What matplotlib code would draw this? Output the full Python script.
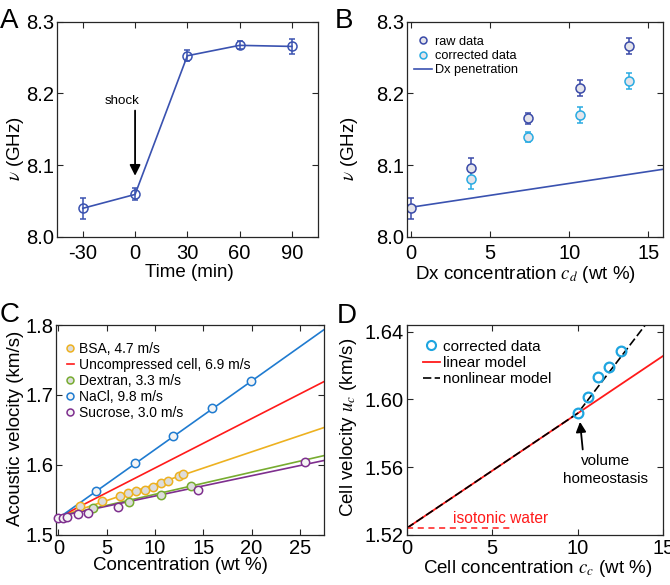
import matplotlib
matplotlib.use('Agg')
import matplotlib.pyplot as plt
from matplotlib import font_manager
from matplotlib.ticker import FormatStrFormatter

# ---------------- data ----------------
# Panel A
time_min = [-30, 0, 30, 60, 90]
freq_A = [8.0396, 8.059, 8.2525, 8.267, 8.2655]
err_A = [0.015, 0.0084, 0.008, 0.0055, 0.011]

# Panel B
raw_conc = [0, 3.8, 7.4, 10.7, 13.8]
raw_freq = [8.0396, 8.0954, 8.165, 8.208, 8.266]
raw_err = [0.015, 0.014, 0.008, 0.011, 0.011]
corr_conc = [3.8, 7.4, 10.7, 13.8]
corr_freq = [8.080, 8.1386, 8.170, 8.2176]
corr_err = [0.014, 0.007, 0.011, 0.011]
pen_x = [0, 15.9]
pen_y = [8.041, 8.094]

# Panel C
bsa_x = [2.24, 4.55, 6.41, 7.24, 8.07, 8.97, 9.82, 10.59, 11.38, 12.48, 12.93]
bsa_y = [1.5409, 1.5481, 1.5552, 1.5591, 1.5624, 1.5643, 1.5686, 1.5735, 1.5768, 1.5839, 1.5868]
dex_x = [3.62, 7.31, 10.62, 13.69]
dex_y = [1.5385, 1.547, 1.5562, 1.5696]
nacl_x = [3.9, 7.9, 11.9, 15.93, 19.93]
nacl_y = [1.5624, 1.602, 1.641, 1.681, 1.720]
suc_x = [0.0, 0.45, 0.93, 2.07, 3.1, 6.2, 14.48, 25.5]
suc_y = [1.5233, 1.5241, 1.5251, 1.5294, 1.5313, 1.539, 1.5638, 1.6036]
fit_x = [0.35, 27.5]
fit_bsa = [1.527, 1.6532]
fit_cell = [1.527, 1.719]
fit_dex = [1.527, 1.613]
fit_nacl = [1.527, 1.7934]
fit_suc = [1.527, 1.606]
labels_C = ['BSA, 4.7 m/s', 'Uncompressed cell, 6.9 m/s', 'Dextran, 3.3 m/s',
            'NaCl, 9.8 m/s', 'Sucrose, 3.0 m/s']

# Panel D
d_conc = [10.03, 10.58, 11.2, 11.84, 12.5]
d_vel = [1.5918, 1.6012, 1.6134, 1.6193, 1.6287]
lin_x = [0, 15]
lin_y = [1.524, 1.6258]
nonlin_x = [0, 10, 13.95]
nonlin_y = [1.524, 1.5919, 1.644]
iso_x = [0, 6.25]
iso_y = [1.524, 1.524]

# ---------------- style ----------------
names = {f.name for f in font_manager.fontManager.ttflist}
NARROW = 'Liberation Sans Narrow' in names
FAM = 'Liberation Sans Narrow' if NARROW else 'Liberation Sans'

plt.rcParams.update({
    'font.family': [FAM, 'DejaVu Sans'],
    'mathtext.fontset': 'stix',
    'axes.unicode_minus': False,
    'xtick.direction': 'in', 'ytick.direction': 'in',
    'xtick.top': True, 'ytick.right': True,
    'xtick.major.size': 4, 'ytick.major.size': 4,
    'xtick.major.width': 0.8, 'ytick.major.width': 0.8,
    'axes.linewidth': 0.9,
    'axes.edgecolor': '#262626',
    'xtick.color': '#262626', 'ytick.color': '#262626',
    'xtick.labelcolor': 'black', 'ytick.labelcolor': 'black',
})

TICK = 14.5
LAB = 13.5

fig = plt.figure(figsize=(6.7, 5.85), dpi=100)
axA = fig.add_axes([0.0846, 0.5954, 0.3900, 0.3675])
axB = fig.add_axes([0.6070, 0.5954, 0.3821, 0.3675])
axC = fig.add_axes([0.0836, 0.0863, 0.4000, 0.3581])
axD = fig.add_axes([0.6070, 0.0855, 0.3830, 0.3590])

for ax in (axA, axB, axC, axD):
    ax.tick_params(labelsize=TICK)
    ax.tick_params(axis='y', pad=2)
for ax in (axA, axB):
    ax.tick_params(axis='x', pad=5)
for ax in (axC, axD):
    ax.tick_params(axis='x', pad=3)

BLUE_A = '#3a52b0'
# ---------------- A ----------------
axA.errorbar(time_min, freq_A, yerr=err_A, color=BLUE_A, lw=1.2, marker='o',
             ms=6.5, mfc='none', mec=BLUE_A, mew=1.1, capsize=2.5, elinewidth=1.1)
axA.set_xlim(-45, 105)
axA.set_ylim(8.0, 8.3)
axA.set_xticks([-30, 0, 30, 60, 90])
axA.set_yticks([8.0, 8.1, 8.2, 8.3])
axA.yaxis.set_major_formatter(FormatStrFormatter('%.1f'))
axA.annotate('', xy=(0, 8.085), xytext=(0, 8.176),
             arrowprops=dict(arrowstyle='-|>', color='black', lw=1.3,
                             mutation_scale=16, shrinkA=0, shrinkB=0))
axA.text(-7.4, 8.189, 'shock', ha='center', va='center', fontsize=9.6)
axA.set_xlabel('Time (min)', fontsize=LAB)
axA.set_ylabel(r'$\nu$ (GHz)', fontsize=LAB)
axA.xaxis.set_label_coords(0.506, -0.128)
axA.yaxis.set_label_coords(-0.118, 0.41)

# ---------------- B ----------------
RAW = '#3a4aa8'
COR = '#29abe2'
axB.errorbar(raw_conc, raw_freq, yerr=raw_err, color=RAW, ls='none', marker='o',
             ms=6.5, mfc='#e4e4ea', mec=RAW, mew=1.1, capsize=2.5, elinewidth=1.1)
axB.errorbar(corr_conc, corr_freq, yerr=corr_err, color=COR, ls='none', marker='o',
             ms=6.5, mfc='#e4e4ea', mec=COR, mew=1.1, capsize=2.5, elinewidth=1.1)
axB.plot(pen_x, pen_y, color=BLUE_A, lw=1.2)
axB.set_xlim(-0.25, 15.9)
axB.set_ylim(8.0, 8.3)
axB.set_xticks([0, 5, 10, 15])
axB.set_yticks([8.0, 8.1, 8.2, 8.3])
axB.yaxis.set_major_formatter(FormatStrFormatter('%.1f'))
hh = [plt.Line2D([], [], ls='none', marker='o', ms=5, mfc='#e4e4ea', mec=RAW, mew=1.1),
      plt.Line2D([], [], ls='none', marker='o', ms=5, mfc='#e4e4ea', mec=COR, mew=1.1),
      plt.Line2D([], [], color=BLUE_A, lw=1.2)]
axB.legend(hh, ['raw data', 'corrected data', 'Dx penetration'], loc='upper left',
           bbox_to_anchor=(0.03, 0.935), frameon=False, fontsize=9.2,
           handlelength=1.35, handletextpad=0.3, labelspacing=0.18,
           borderpad=0, borderaxespad=0)
axB.set_xlabel(r'Dx concentration $c_d$ (wt %)', fontsize=LAB)
axB.set_ylabel(r'$\nu$ (GHz)', fontsize=LAB)
axB.xaxis.set_label_coords(0.465, -0.128)
axB.yaxis.set_label_coords(-0.183, 0.41)

# ---------------- C ----------------
C_BSA = '#edb120'
C_RED = '#ff1a1a'
C_DEX = '#77ac30'
C_NACL = '#1f7bd0'
C_SUC = '#7e2f8e'
FILL = '#dcdcdc'
lw_fit = 1.2
axC.plot(fit_x, fit_bsa, color=C_BSA, lw=lw_fit)
axC.plot(fit_x, fit_cell, color=C_RED, lw=lw_fit)
axC.plot(fit_x, fit_dex, color=C_DEX, lw=lw_fit)
axC.plot(fit_x, fit_nacl, color=C_NACL, lw=lw_fit)
axC.plot(fit_x, fit_suc, color=C_SUC, lw=lw_fit)
mk = dict(ls='none', marker='o', ms=6, mew=1.1, clip_on=False, zorder=3)
axC.plot(bsa_x, bsa_y, mfc=FILL, mec=C_BSA, **mk)
axC.plot(dex_x, dex_y, mfc=FILL, mec=C_DEX, **mk)
axC.plot(nacl_x, nacl_y, mfc='#f4f4f4', mec=C_NACL, **mk)
axC.plot(suc_x, suc_y, mfc='#f4f4f4', mec=C_SUC, **mk)
hC = [plt.Line2D([], [], ls='none', marker='o', ms=5, mfc=FILL, mec=C_BSA, mew=1.1),
      plt.Line2D([], [], color=C_RED, lw=1.2),
      plt.Line2D([], [], ls='none', marker='o', ms=5, mfc=FILL, mec=C_DEX, mew=1.1),
      plt.Line2D([], [], ls='none', marker='o', ms=5, mfc='#f4f4f4', mec=C_NACL, mew=1.1),
      plt.Line2D([], [], ls='none', marker='o', ms=5, mfc='#f4f4f4', mec=C_SUC, mew=1.1)]
axC.legend(hC, labels_C, loc='upper left', bbox_to_anchor=(0.04, 0.92), frameon=False,
           fontsize=10, handlelength=0.5, handletextpad=0.35, labelspacing=0.15,
           borderpad=0, borderaxespad=0)
axC.set_xlim(-0.25, 27.5)
axC.set_ylim(1.5, 1.8)
axC.set_xticks([0, 5, 10, 15, 20, 25])
axC.set_yticks([1.5, 1.6, 1.7, 1.8])
axC.yaxis.set_major_formatter(FormatStrFormatter('%.1f'))
axC.set_xlabel('Concentration (wt %)', fontsize=LAB)
axC.set_ylabel('Acoustic velocity (km/s)', fontsize=LAB)
axC.xaxis.set_label_coords(0.463, -0.108)
axC.yaxis.set_label_coords(-0.118, 0.507)

# ---------------- D ----------------
C_D = '#1ea5e0'
axD.plot(lin_x, lin_y, color='#ff1a1a', lw=1.3)
axD.plot(nonlin_x, nonlin_y, color='black', lw=1.2, ls=(0, (5, 2)))
axD.plot(iso_x, iso_y, color='#ff1a1a', lw=1.1, ls=(0, (4, 3)), clip_on=False)
axD.plot(d_conc, d_vel, ls='none', marker='o', ms=7, mfc='none', mec=C_D, mew=1.6,
         zorder=3)
hD = [plt.Line2D([], [], ls='none', marker='o', ms=6.5, mfc='none', mec=C_D, mew=1.5),
      plt.Line2D([], [], color='#ff1a1a', lw=1.3),
      plt.Line2D([], [], color='black', lw=1.2, ls=(0, (5, 2)))]
axD.legend(hD, ['corrected data', 'linear model', 'nonlinear model'], loc='upper left',
           bbox_to_anchor=(0.063, 0.93), frameon=False, fontsize=11,
           handlelength=1.1, handletextpad=0.25, labelspacing=0.15,
           borderpad=0, borderaxespad=0)
axD.annotate('', xy=(10.13, 1.5868), xytext=(10.29, 1.5705),
             arrowprops=dict(arrowstyle='-|>', color='black', lw=1.3,
                             mutation_scale=15, shrinkA=0, shrinkB=0))
axD.text(11.6, 1.5585, 'volume\nhomeostasis', ha='center', va='center',
         fontsize=11, linespacing=1.35)
axD.text(5.5, 1.5255, 'isotonic water', ha='center', va='bottom', color='#ff1a1a',
         fontsize=11.2)
axD.set_xlim(0, 15)
axD.set_ylim(1.52, 1.644)
axD.set_xticks([0, 5, 10, 15])
axD.set_yticks([1.52, 1.56, 1.60, 1.64])
axD.yaxis.set_major_formatter(FormatStrFormatter('%.2f'))
axD.set_xlabel(r'Cell concentration $c_c$ (wt %)', fontsize=LAB)
axD.set_ylabel(r'Cell velocity $u_c$ (km/s)', fontsize=LAB)
axD.xaxis.set_label_coords(0.51, -0.108)
axD.yaxis.set_label_coords(-0.185, 0.512)

# panel letters
for lab, x, y in [('A', 0.0, 28.3), ('B', 335, 28.3), ('C', 0.0, 321.7), ('D', 337, 323.3)]:
    fig.text(x / 670, 1 - y / 585, lab, fontsize=20, family='Liberation Sans',
             ha='left', va='baseline')

fig.savefig('out.png', dpi=100)
